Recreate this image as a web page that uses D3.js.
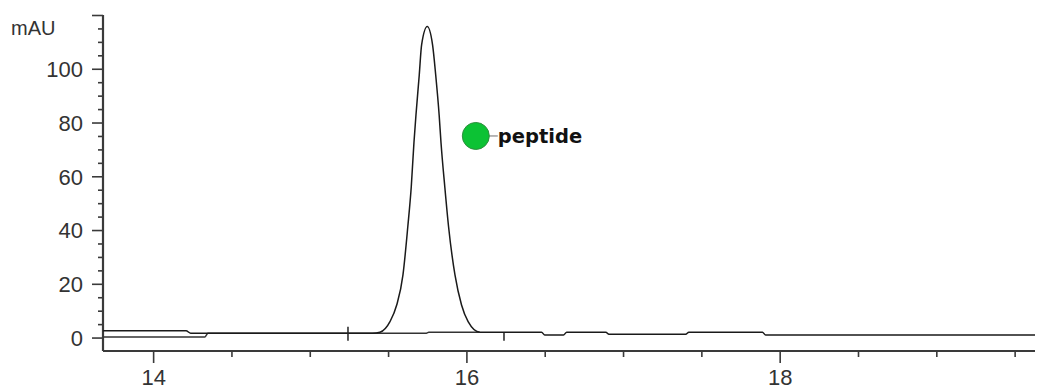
<!DOCTYPE html>
<html>
<head>
<meta charset="utf-8">
<script src="https://cdn.jsdelivr.net/npm/d3@7"></script>
<style>
  html, body { margin: 0; padding: 0; background: #fff; }
  svg { display: block; }
</style>
</head>
<body>
<svg id="chart" width="1038" height="392"></svg>
<script>
// ---- data ----
const sampleTime  = [13.68, 14.21, 14.24, 15.40, 15.448, 15.512, 15.555, 15.595, 15.626, 15.648, 15.665, 15.678, 15.699, 15.714, 15.750, 15.784, 15.804, 15.826, 15.838, 15.862, 15.886, 15.927, 15.969, 16.011, 16.086, 16.48, 16.50, 16.62, 16.64, 16.89, 16.91, 17.40, 17.42, 17.89, 17.91, 19.63];
const sampleValue = [2.57, 2.57, 1.6, 1.6, 1.97, 5.9, 12.1, 23.3, 41.3, 56.1, 72.4, 82.8, 97.7, 108.9, 115.7, 108.9, 97.7, 82.8, 72.4, 56.1, 41.3, 23.3, 12.1, 5.9, 1.97, 1.97, 0.97, 0.97, 1.97, 1.97, 1.2, 1.2, 1.97, 1.97, 0.97, 0.97];
const baseTime    = [13.68, 14.33, 14.35, 15.74, 15.76, 16.086];
const baseValue   = [0.22, 0.22, 1.6, 1.6, 1.97, 1.97];
const markerTime   = [15.244, 16.24];
const markerTop    = [4.05, 1.7];
const markerBottom = [-1.15, -1.15];
const peakLabels = ["peptide"];
const peakLabelTime = [16.06];
const peakLabelValue = [75];
const xMajorTicks = [14, 16, 18];
const yMajorTicks = [0, 20, 40, 60, 80, 100, 120];
const yLabelTicks = [0, 20, 40, 60, 80, 100];
const yUnit = "mAU";

// ---- layout ----
const W = 1038, H = 392;
const margin = {left: 103, right: 3, top: 15, bottom: 41};
const svg = d3.select("#chart");
const x = d3.scaleLinear().domain([13.68, 19.63]).range([margin.left, W - margin.right]);
const y = d3.scaleLinear().domain([-5, 120]).range([H - margin.bottom, margin.top]);

const axisColor = "#3a3a3a";
const font = "'Liberation Sans', Arial, sans-serif";

// minor ticks
const xMinor = d3.range(14, 19.6, 0.5).filter(t => !xMajorTicks.includes(t));
const yMinor = d3.range(5, 120, 5).filter(v => !yMajorTicks.includes(v));

const xAxisMajor = d3.axisBottom(x).tickValues(xMajorTicks).tickSize(12).tickFormat(d3.format("d"));
const xAxisMinor = d3.axisBottom(x).tickValues(xMinor).tickSize(6).tickFormat("");
const yAxisMajor = d3.axisLeft(y).tickValues(yMajorTicks).tickSize(11)
  .tickFormat(d => yLabelTicks.includes(d) ? d : "");
const yAxisMinor = d3.axisLeft(y).tickValues(yMinor).tickSize(5).tickFormat("");

function styleAxis(g) {
  g.select(".domain").remove();
  g.selectAll("line").attr("stroke", axisColor).attr("stroke-width", 1.6);
  g.selectAll("text").attr("fill", "#333").style("font-family", font).style("font-size", "22px");
}

const gx = svg.append("g").attr("transform", `translate(0,${y(-5)})`);
gx.append("g").call(xAxisMinor).call(styleAxis);
gx.append("g").call(xAxisMajor).call(styleAxis).selectAll("text").attr("y", 18).attr("dy", "0.71em");

const gy = svg.append("g").attr("transform", `translate(${x(13.68)},0)`);
gy.append("g").call(yAxisMinor).call(styleAxis);
gy.append("g").call(yAxisMajor).call(styleAxis).selectAll("text").attr("x", -20).attr("dy", "0.36em");

// axis lines
svg.append("line").attr("x1", x(13.68)).attr("x2", x(19.63)).attr("y1", y(-5)).attr("y2", y(-5))
  .attr("stroke", axisColor).attr("stroke-width", 2.2);
svg.append("line").attr("x1", x(13.68)).attr("x2", x(13.68)).attr("y1", y(-5)).attr("y2", y(120))
  .attr("stroke", axisColor).attr("stroke-width", 2.2);

svg.append("text").attr("x", 11).attr("y", 35).text(yUnit)
  .attr("fill", "#333").style("font-family", font).style("font-size", "20px");

// traces
const line = d3.line().x(d => x(d[0])).y(d => y(d[1])).curve(d3.curveMonotoneX);
svg.append("path").datum(d3.zip(baseTime, baseValue)).attr("d", line)
  .attr("fill", "none").attr("stroke", "#333").attr("stroke-width", 1.4);
svg.append("path").datum(d3.zip(sampleTime, sampleValue)).attr("d", line)
  .attr("fill", "none").attr("stroke", "#1a1a1a").attr("stroke-width", 1.5);

// event markers
markerTime.forEach((t, i) => {
  svg.append("line").attr("x1", x(t)).attr("x2", x(t))
    .attr("y1", y(markerTop[i])).attr("y2", y(markerBottom[i]))
    .attr("stroke", "#222").attr("stroke-width", 1.5);
});

// peak annotation
peakLabels.forEach((lab, i) => {
  const cx = x(peakLabelTime[i]), cy = y(peakLabelValue[i]);
  svg.append("line").attr("x1", cx + 13).attr("x2", cx + 22).attr("y1", cy).attr("y2", cy)
    .attr("stroke", "#888").attr("stroke-width", 1.2);
  svg.append("circle").attr("cx", cx).attr("cy", cy).attr("r", 13.5)
    .attr("fill", "#0cc234").attr("stroke", "#2e8f3e").attr("stroke-width", 1);
  svg.append("text").attr("x", cx + 22).attr("y", cy).attr("dy", "0.36em").text(lab)
    .attr("fill", "#111").style("font-family", "'DejaVu Sans', Verdana, sans-serif")
    .style("font-weight", "bold").style("font-size", "19.5px");
});
</script>
</body>
</html>
